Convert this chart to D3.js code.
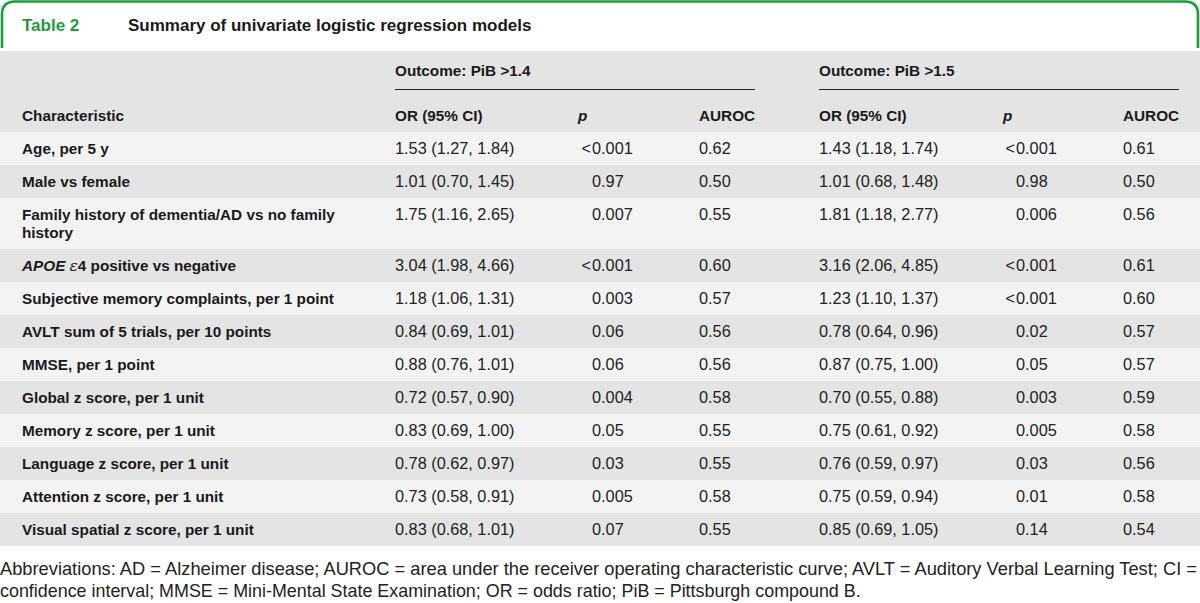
<!DOCTYPE html>
<html><head><meta charset="utf-8">
<script src="https://cdn.jsdelivr.net/npm/d3@7"></script>
<style>
html,body{margin:0;padding:0;background:#fff;}
svg{display:block;}
</style>
</head><body>
<svg id="chart" width="1200" height="603"></svg>
<script>
const titleLabel = "Table 2";
const titleText = "Summary of univariate logistic regression models";
const outcomes = ["Outcome: PiB >1.4", "Outcome: PiB >1.5"];
const colHeaders = ["OR (95% CI)", "p", "AUROC"];
const characteristics = [
  ["Age, per 5 y"],
  ["Male vs female"],
  ["Family history of dementia/AD vs no family", "history"],
  ["APOE ε4 positive vs negative"],
  ["Subjective memory complaints, per 1 point"],
  ["AVLT sum of 5 trials, per 10 points"],
  ["MMSE, per 1 point"],
  ["Global z score, per 1 unit"],
  ["Memory z score, per 1 unit"],
  ["Language z score, per 1 unit"],
  ["Attention z score, per 1 unit"],
  ["Visual spatial z score, per 1 unit"]
];
const or1 = ["1.53 (1.27, 1.84)","1.01 (0.70, 1.45)","1.75 (1.16, 2.65)","3.04 (1.98, 4.66)","1.18 (1.06, 1.31)","0.84 (0.69, 1.01)","0.88 (0.76, 1.01)","0.72 (0.57, 0.90)","0.83 (0.69, 1.00)","0.78 (0.62, 0.97)","0.73 (0.58, 0.91)","0.83 (0.68, 1.01)"];
const p1 = ["<0.001","0.97","0.007","<0.001","0.003","0.06","0.06","0.004","0.05","0.03","0.005","0.07"];
const auc1 = ["0.62","0.50","0.55","0.60","0.57","0.56","0.56","0.58","0.55","0.55","0.58","0.55"];
const or2 = ["1.43 (1.18, 1.74)","1.01 (0.68, 1.48)","1.81 (1.18, 2.77)","3.16 (2.06, 4.85)","1.23 (1.10, 1.37)","0.78 (0.64, 0.96)","0.87 (0.75, 1.00)","0.70 (0.55, 0.88)","0.75 (0.61, 0.92)","0.76 (0.59, 0.97)","0.75 (0.59, 0.94)","0.85 (0.69, 1.05)"];
const p2 = ["<0.001","0.98","0.006","<0.001","<0.001","0.02","0.05","0.003","0.005","0.03","0.01","0.14"];
const auc2 = ["0.61","0.50","0.56","0.61","0.60","0.57","0.57","0.59","0.58","0.56","0.58","0.54"];
const footnote = [
  "Abbreviations: AD = Alzheimer disease; AUROC = area under the receiver operating characteristic curve; AVLT = Auditory Verbal Learning Test; CI =",
  "confidence interval; MMSE = Mini-Mental State Examination; OR = odds ratio; PiB = Pittsburgh compound B."
];

const svg = d3.select("#chart");
const FONT = "'Liberation Sans', Arial, sans-serif";
const green = "#1e9b3c";
const dark = "#1a1a1a";
const grayRow = "#e4e4e4";
const lightRow = "#f3f3f3";
const BOLD_SIZE = 15.3, VAL_SIZE = 16.3;

// Title box with rounded top corners
const boxL = 2, boxR = 1198, boxT = 1.5, boxB = 48, r = 13;
svg.append("path")
  .attr("d", `M${boxL},${boxB} L${boxL},${boxT + r} Q${boxL},${boxT} ${boxL + r},${boxT} L${boxR - r},${boxT} Q${boxR},${boxT} ${boxR},${boxT + r} L${boxR},${boxB}`)
  .attr("fill", "none").attr("stroke", green).attr("stroke-width", 2.6);
svg.append("text").attr("x", 22).attr("y", 31).text(titleLabel)
  .attr("font-family", FONT).attr("font-weight", 700).attr("font-size", 17).attr("fill", green);
svg.append("text").attr("x", 128).attr("y", 31).text(titleText)
  .attr("font-family", FONT).attr("font-weight", 700).attr("font-size", 17).attr("fill", dark);

// Header band
const headerTop = 51, headerBottom = 132;
svg.append("rect").attr("x", 0).attr("y", headerTop).attr("width", 1200).attr("height", headerBottom - headerTop).attr("fill", grayRow);

// Column positions
const colKeys = ["char","or1","p1","auc1","or2","p2","auc2"];
const x = d3.scaleOrdinal().domain(colKeys).range([22, 395, 592, 699, 819, 1016, 1123]);
const pHeaderX = {p1: 578, p2: 1003};

// Row scale: units per row (1 line = 33px, extra line = 18px)
const rowUnits = characteristics.map(c => 33 + 18 * (c.length - 1));
const cum = [0]; rowUnits.forEach(u => cum.push(cum[cum.length - 1] + u));
const y = d3.scaleLinear().domain([0, cum[cum.length - 1]]).range([headerBottom, headerBottom + cum[cum.length - 1]]);

// Header texts
outcomes.forEach((o, i) => {
  const x0 = x(i === 0 ? "or1" : "or2");
  const x1 = x(i === 0 ? "auc1" : "auc2") + 56;
  svg.append("text").attr("x", x0).attr("y", 76).text(o)
    .attr("font-family", FONT).attr("font-weight", 700).attr("font-size", BOLD_SIZE).attr("fill", dark);
  svg.append("line").attr("x1", x0).attr("x2", x1).attr("y1", 89.5).attr("y2", 89.5)
    .attr("stroke", "#222").attr("stroke-width", 1);
});
svg.append("text").attr("x", x("char")).attr("y", 121).text("Characteristic")
  .attr("font-family", FONT).attr("font-weight", 700).attr("font-size", BOLD_SIZE).attr("fill", dark);
[["or1","p1","auc1"],["or2","p2","auc2"]].forEach(keys => {
  keys.forEach((k, j) => {
    const t = svg.append("text").attr("x", k.startsWith("p") ? pHeaderX[k] : x(k)).attr("y", 121).text(colHeaders[j])
      .attr("font-family", FONT).attr("font-weight", 700).attr("font-size", BOLD_SIZE).attr("fill", dark);
    if (j === 1) t.attr("font-style", "italic");
  });
});

// Rows
const rows = svg.append("g");
characteristics.forEach((c, i) => {
  const top = y(cum[i]), bot = y(cum[i + 1]);
  rows.append("rect").attr("x", 0).attr("y", top).attr("width", 1200).attr("height", bot - top)
    .attr("fill", i % 2 === 0 ? lightRow : grayRow);
  const base = top + 21.5;
  c.forEach((line, li) => {
    const t = rows.append("text").attr("x", x("char")).attr("y", base + li * 18)
      .attr("font-family", FONT).attr("font-weight", 700).attr("font-size", BOLD_SIZE).attr("fill", dark);
    if (line.startsWith("APOE")) {
      t.append("tspan").attr("font-style", "italic").text("APOE ");
      t.append("tspan").attr("font-style", "italic").attr("font-family", "'DejaVu Serif', serif").attr("font-weight", 400).text("ε");
      t.append("tspan").text(line.slice(6));
    } else {
      t.text(line);
    }
  });
  const vals = {or1: or1[i], p1: p1[i], auc1: auc1[i], or2: or2[i], p2: p2[i], auc2: auc2[i]};
  Object.keys(vals).forEach(k => {
    const v = vals[k];
    const t = rows.append("text").attr("y", base)
      .attr("font-family", FONT).attr("font-size", VAL_SIZE).attr("fill", "#222");
    if (k.startsWith("p") && v.startsWith("<")) {
      t.attr("x", x(k) - 1).attr("text-anchor", "end").text("<");
      rows.append("text").attr("x", x(k)).attr("y", base).text(v.slice(1))
        .attr("font-family", FONT).attr("font-size", VAL_SIZE).attr("fill", "#222");
    } else {
      t.attr("x", x(k)).text(v);
    }
  });
});

// Footnote
footnote.forEach((f, i) => {
  const t = svg.append("text").attr("x", 0).attr("y", 575 + i * 22).text(f)
    .attr("font-family", FONT).attr("font-size", 17.9).attr("fill", "#222");
  if (i === 0) t.attr("textLength", 1197).attr("lengthAdjust", "spacingAndGlyphs");
});
</script>
</body></html>
